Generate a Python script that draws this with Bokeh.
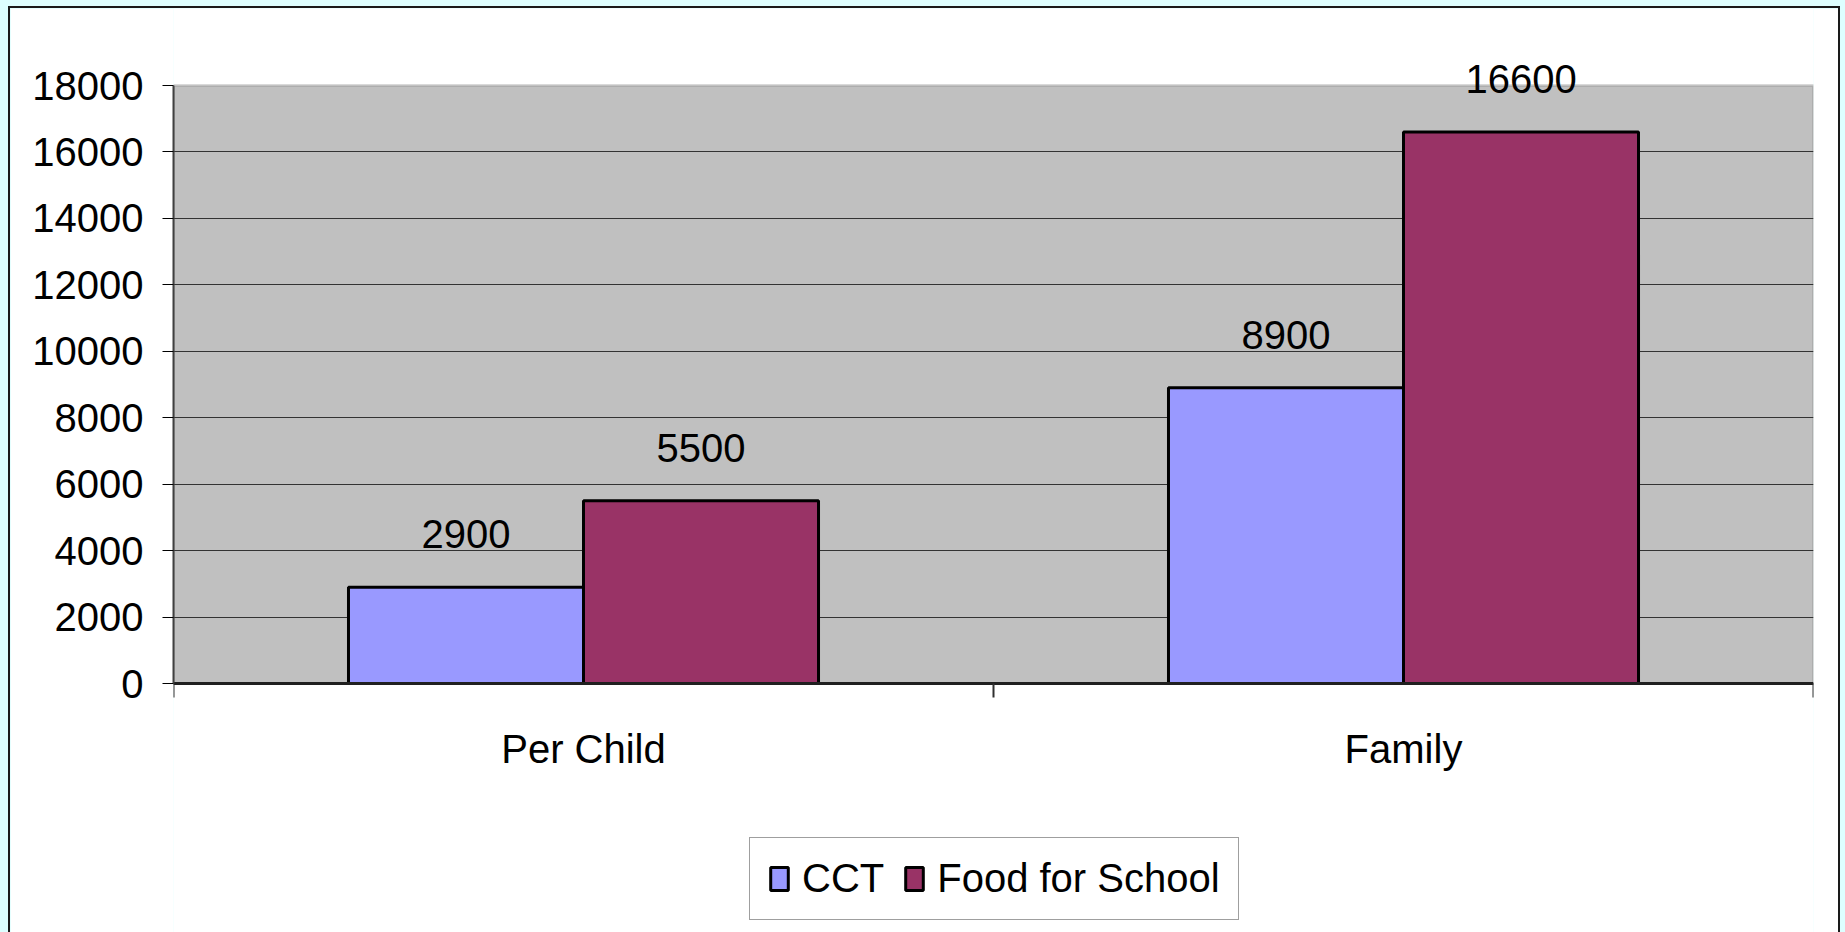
from bokeh.plotting import figure
from bokeh.models import (ColumnDataSource, FixedTicker, Legend, LegendItem,
                          Range1d, BoxAnnotation)
from bokeh.transform import dodge
from bokeh.layouts import column
from bokeh.core.properties import value
from bokeh.embed import file_html
from bokeh.resources import INLINE

categories = ["Per Child", "Family"]
series = ["CCT", "Food for School"]
cct = [2900, 8900]
food_for_school = [5500, 16600]
y_ticks = [0, 2000, 4000, 6000, 8000, 10000, 12000, 14000, 16000, 18000]

colors = {"CCT": "#9999FF", "Food for School": "#993366"}
FONT = "Liberation Sans"
FS = "40px"

pos = [i + 0.5 for i in range(len(categories))]
src_cct = ColumnDataSource(dict(x=pos, v=cct, lbl=[str(v) for v in cct]))
src_food = ColumnDataSource(dict(x=pos, v=food_for_school,
                                 lbl=[str(v) for v in food_for_school]))

# layout (pixels): canvas size, gray area top / height inside the canvas
canvas_w, canvas_h = 1828, 924
area_top, area_h = 77, 598
y_max = y_ticks[-1]
px_per_unit = area_h / y_max
y_end = y_max + area_top / px_per_unit
y_start = -(canvas_h - area_top - area_h) / px_per_unit

p = figure(width=canvas_w, height=canvas_h, output_backend="svg",
           toolbar_location=None,
           x_range=Range1d(0, len(categories)), y_range=Range1d(y_start, y_end),
           min_border_left=163, min_border_right=25, min_border_top=0,
           min_border_bottom=0)
p.background_fill_color = "white"
p.border_fill_color = "white"
p.outline_line_color = None

# gray plotting area between 0 and the top tick
plot_area = BoxAnnotation(left=0, right=len(categories), bottom=0, top=y_max,
                          fill_color="#C0C0C0", fill_alpha=1,
                          line_color="#808080", line_width=3, level="image")
p.add_layout(plot_area)

bar_w = 0.2866
r_cct = p.vbar(x=dodge("x", -bar_w / 2, range=p.x_range), top="v", width=bar_w,
               bottom=0, source=src_cct, fill_color=colors["CCT"],
               line_color="black", line_width=3)
r_food = p.vbar(x=dodge("x", bar_w / 2, range=p.x_range), top="v", width=bar_w,
                bottom=0, source=src_food, fill_color=colors["Food for School"],
                line_color="black", line_width=3)

# value labels above bars
for src, off in ((src_cct, -bar_w / 2), (src_food, bar_w / 2)):
    p.text(x=dodge("x", off, range=p.x_range), y="v", text="lbl", source=src,
           text_align="center", text_baseline="alphabetic", y_offset=-53,
           text_font=value(FONT), text_font_size=FS, text_color="black")

# y axis (left panel)
p.yaxis.ticker = FixedTicker(ticks=y_ticks)
p.yaxis.bounds = (0, y_max)
p.yaxis.axis_line_color = "#404040"
p.yaxis.axis_line_width = 2
p.yaxis.major_tick_out = 11
p.yaxis.major_tick_in = 0
p.yaxis.major_tick_line_color = "black"
p.yaxis.minor_tick_line_color = None
p.yaxis.major_label_standoff = 19
p.yaxis.major_label_text_font = FONT
p.yaxis.major_label_text_font_size = FS
p.yaxis.major_label_text_color = "black"

# x axis drawn at y = 0: names at category centres, ticks at boundaries
p.xaxis.fixed_location = 0
p.xaxis.ticker = FixedTicker(ticks=pos,
                             minor_ticks=list(range(len(categories) + 1)))
p.xaxis.major_label_overrides = {x: c for x, c in zip(pos, categories)}
p.xaxis.axis_line_color = "#202020"
p.xaxis.axis_line_width = 3
p.xaxis.major_tick_out = 0
p.xaxis.major_tick_in = 0
p.xaxis.minor_tick_out = 14
p.xaxis.minor_tick_in = 0
p.xaxis.minor_tick_line_color = "#303030"
p.xaxis.minor_tick_line_width = 2
p.xaxis.major_label_standoff = 29
p.xaxis.major_label_text_font = FONT
p.xaxis.major_label_text_font_size = FS
p.xaxis.major_label_text_color = "black"

# horizontal grid inside the gray area (the top edge is the area border)
p.xgrid.grid_line_color = None
p.ygrid.ticker = FixedTicker(ticks=y_ticks[:-1])
p.ygrid.grid_line_color = "#333333"
p.ygrid.grid_line_width = 1

legend = Legend(items=[LegendItem(label=series[0], renderers=[r_cct]),
                       LegendItem(label=series[1], renderers=[r_food])],
                location=(576, 12), orientation="horizontal",
                glyph_width=22, glyph_height=29, label_standoff=12, spacing=19,
                padding=18, margin=0,
                label_text_font=FONT, label_text_font_size=FS,
                label_text_color="black",
                border_line_color="#404040", border_line_width=1,
                background_fill_color="white", background_fill_alpha=1)
p.add_layout(legend, "center")

framed = column(p, styles={"border-left": "2px solid #1a1a1a",
                           "border-top": "2px solid #1a1a1a",
                           "border-right": "2px solid #1a1a1a"})
page = column(framed, styles={"background-color": "#DDFFFF",
                              "padding-left": "8px", "padding-top": "6px",
                              "padding-right": "5px", "width": "1845px",
                              "height": "932px", "box-sizing": "border-box"})

open("out.html", "w").write(file_html(page, INLINE))
